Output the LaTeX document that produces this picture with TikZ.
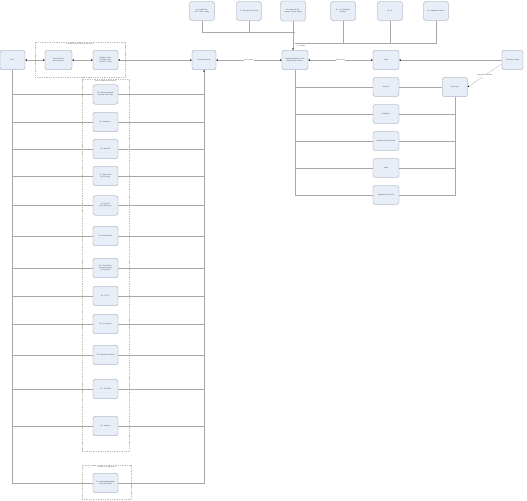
\documentclass[tikz,border=0pt]{standalone}
\usepackage{fontspec}
\setmainfont{Liberation Sans}
\usepackage{tikz}
\usetikzlibrary{positioning,arrows.meta,fit}
\definecolor{boxfill}{HTML}{E8EEF8}
\definecolor{boxline}{HTML}{8A93A3}
\definecolor{wirecol}{HTML}{A8A8A8}
\definecolor{txt}{HTML}{404040}
\tikzset{
  app/.style={draw=boxline,fill=boxfill,rounded corners=2.5mm,line width=0.75pt,
            minimum width=25mm,minimum height=19.5mm,text width=19mm,
            align=center,inner sep=0pt,font=\fontsize{4.8}{5.8}\selectfont,text=txt},
  grp/.style={draw=gray!50,densely dashed,line width=0.45pt,inner sep=0pt},
  grptitle/.style={font=\fontsize{4.4}{5}\selectfont,text=txt,inner sep=1pt},
  wire/.style={draw=wirecol,line width=0.65pt},
  tip/.style={>={Stealth[length=1.8mm,width=1.4mm,color=black]}},
  link/.style={wire,tip,<->},
  feed/.style={wire,tip,->},
  lbl/.style={font=\fontsize{4.4}{5}\selectfont,text=txt,fill=white,inner sep=1pt},
}

\begin{document}
\begin{tikzpicture}[x=1mm,y=-1mm]
  \useasboundingbox (0,0) rectangle (527,500);

  % top row of sources
  \node[app,minimum height=19mm] (t1) at (202,11) {e.g. Mobile Device, Tablet, Laptop};
  \node[app,minimum height=19mm] (t2) at (249,11) {Ex: Remote Linux Shell};
  \node[app,minimum height=20mm] (t3) at (293,11) {Ex: Microsoft Exchange, Teams, Skype};
  \node[app,minimum height=19mm] (t4) at (343,11) {Ex: VS Code/Dev Platform};
  \node[app,minimum height=19mm] (t5) at (390,11) {Ex: IE};
  \node[app,minimum height=19mm] (t6) at (436,11) {Ex: Database Servers};

  % main row
  \node[app] (user) at (12.5,60) {User};
  \node[app,minimum width=27mm] (ws1) at (58.5,60) {Remote Desktop Connection};
  \node[app] (ws2) at (105.5,60) {Windows Client or Browser Portal (RDP / SSH)};
  \node[app,minimum width=24mm] (gw) at (204,60) {Access Gateway};
  \node[app,minimum width=26mm] (win) at (295,60) {Windows Based or Linux Based Target Server};
  \node[app,minimum width=26mm] (vault) at (386,60) {Vault};
  \node[app,minimum width=21mm,text width=18mm] (cfg) at (512.5,60) {Cloud Key Config};
  \node[app] (vs) at (455,87) {Vault Sync};

  \node[grp,fit={(35,42) (125,77)}] (grplocal) {};
  \node[grptitle,below=0.6mm of grplocal.north] {User Workstation \& Remote Connection};

  % right column
  \node[app,minimum width=26mm,minimum height=19mm] (rA) at (386,87) {Services};
  \node[app,minimum width=26mm,minimum height=19mm] (rB) at (386,114) {Scheduler};
  \node[app,minimum width=26mm,minimum height=19mm] (rC) at (386,141) {Windows Group Policies};
  \node[app,minimum width=26mm,minimum height=19mm] (rD) at (386,168) {Tasks};
  \node[app,minimum width=26mm,minimum height=19mm] (rE) at (386,195) {Application Pool (IIS)};

  % left column
  \node[grp,fit={(82,79) (129,451)}] (grpwin) {};
  \node[grptitle,below=0.6mm of grpwin.north] {Various Windows Applications};
  \node[app] (c1) at (105.5,94.5) {Ex: Chrome Browser (Outlook Web, 365)};
  \node[app] (c2) at (105.5,122) {Ex: Notepad++};
  \node[app] (c3) at (105.5,149) {Ex: WinSCP};
  \node[app] (c4) at (105.5,176) {Ex: SharePoint (MTS client)};
  \node[app] (c5) at (105.5,205.5) {Ex: Oracle SQL (DB client)};
  \node[app] (c6) at (105.5,236) {Ex: Visual Studio};
  \node[app] (c7) at (105.5,268) {Ex: PowerShell / Command prompt (CLI access)};
  \node[app] (c8) at (105.5,296) {Ex: PuTTY};
  \node[app] (c9) at (105.5,324) {Ex: Lync/Skype};
  \node[app] (c10) at (105.5,355) {T.B.: Windows Services};
  \node[app] (c11) at (105.5,389) {T.B.: FreeRDP};
  \node[app] (c12) at (105.5,426) {Ex: VMware};

  \node[grp,fit={(82,465) (131,499)}] (grplnx) {};
  \node[grptitle,below=0.6mm of grplnx.north] {Personal Linux Application};
  \node[app] (c13) at (105.5,483) {Ex: Android Messaging Client (ChatBox)};

  % main row links
  \draw[link] (user) -- (ws1);
  \draw[link] (ws1) -- (ws2);
  \draw[link] (ws2) -- (gw);
  \draw[link] (gw) -- node[lbl] {RDP session} (win);
  \draw[link] (win) -- node[lbl] {SSH session} (vault);
  \draw[feed] (cfg) -- (vault);
  \draw[feed] (cfg.200) -- node[lbl] {Encrypted credentials} (vs.east);

  % top tree into target server
  \coordinate (j1) at (295,32);
  \coordinate (j2) at (295,43);
  \draw[wire] (t1.south) |- (j1);
  \draw[wire] (t2.south) |- (j1);
  \draw[wire] (t4.south) |- (j2);
  \draw[wire] (t5.south) |- (j2);
  \draw[wire] (t6.south) |- (j2);
  \draw[feed] (t3.south) -- (t3.south |- win.north);
  \node[lbl,fill=none,anchor=west] at (297,45.5) {For outside};

  % left tree
  \foreach \c in {c1,c2,c3,c4,c5,c6,c7,c8,c9,c10,c11,c12,c13} {
    \draw[wire] (user.south) |- (\c.west);
    \draw[wire] (\c.east) -| (gw.south);
  }
  \draw[feed] (c13.east) -| (gw.south);

  % right tree
  \foreach \r in {rA,rB,rC,rD,rE} {
    \draw[wire] (win.south) |- (\r.west);
  }
  \draw[wire] (rA.east) -- (vs.west);
  \foreach \r in {rB,rC,rD,rE} {
    \draw[wire] (\r.east) -| (vs.south);
  }
\end{tikzpicture}
\end{document}
